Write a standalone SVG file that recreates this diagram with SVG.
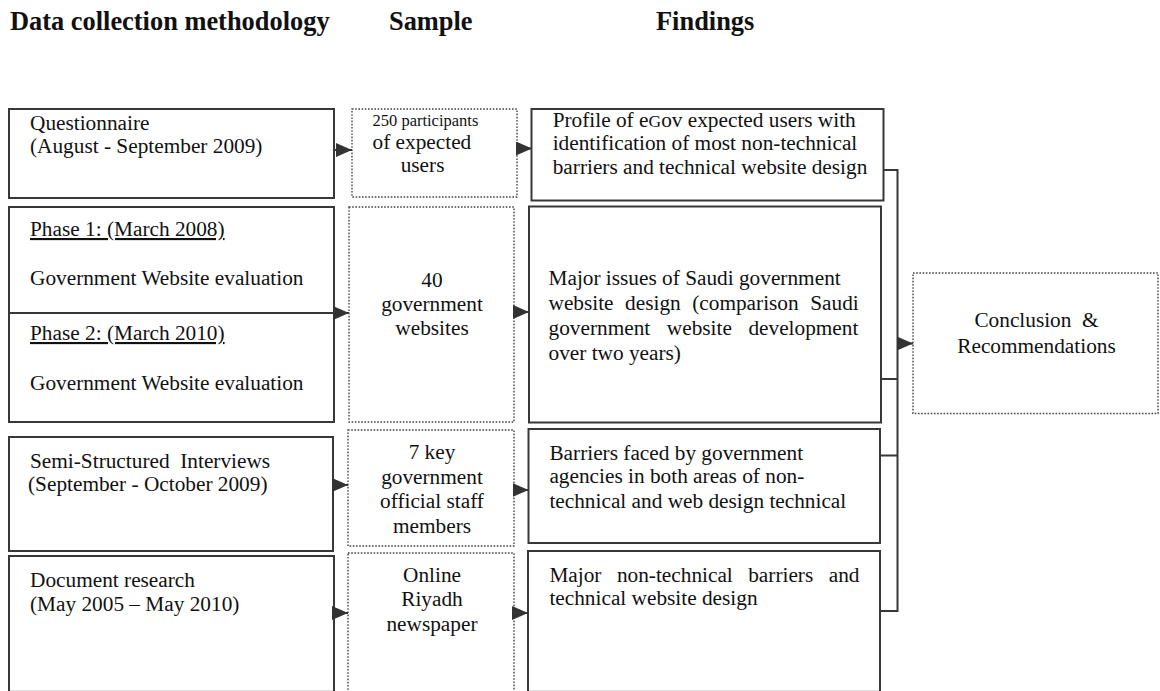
<svg xmlns="http://www.w3.org/2000/svg" width="1160" height="691" viewBox="0 0 1160 691">
  <style>
    text { font-family: "Liberation Serif", "Times New Roman", serif; fill: #111; font-size: 21.3px; }
    .head { font-weight: bold; font-size: 26.4px; }
    .box { fill: #fff; stroke: #383838; stroke-width: 2; }
    .dot { fill: #fff; stroke: #444; stroke-width: 1.4; stroke-dasharray: 1.6 1.6; }
    .ul { text-decoration: underline; }
    .mid { text-anchor: middle; }
    .small { font-size: 16.5px; }
    .edge { stroke: #dcdcdc; stroke-width: 1; }
    .wire { fill: none; stroke: #383838; stroke-width: 2; }
  </style>
  <defs>
    <marker id="tri" viewBox="0 0 16 14" refX="16" refY="7" markerWidth="16" markerHeight="14" markerUnits="userSpaceOnUse" orient="auto">
      <path d="M0,0 L16,7 L0,14 Z" fill="#333"/>
    </marker>
  </defs>
  <rect width="1160" height="691" fill="#fff"/>

  <!-- column headings -->
  <g id="headings">
    <text class="head" x="10" y="30">Data collection methodology</text>
    <text class="head" x="389" y="30">Sample</text>
    <text class="head" x="656" y="30">Findings</text>
  </g>

  <!-- methodology column -->
  <g id="questionnaire">
    <rect class="box" x="9" y="109" width="325" height="89"/>
    <text x="30" y="130">Questionnaire</text>
    <text x="30" y="153">(August - September 2009)</text>
  </g>
  <g id="website-evaluation">
    <rect class="box" x="9" y="207" width="325" height="215"/>
    <line class="wire" x1="9" y1="313" x2="334" y2="313"/>
    <text class="ul" x="30" y="236">Phase 1: (March 2008)</text>
    <text x="30" y="285">Government Website evaluation</text>
    <text class="ul" x="30" y="340">Phase 2: (March 2010)</text>
    <text x="30" y="390">Government Website evaluation</text>
  </g>
  <g id="interviews">
    <rect class="box" x="9" y="437" width="324" height="114"/>
    <text x="30" y="468" xml:space="preserve">Semi-Structured  Interviews</text>
    <text x="28" y="491">(September - October 2009)</text>
  </g>
  <g id="document-research">
    <rect class="box" x="9" y="556" width="325" height="150"/>
    <line class="edge" x1="10" y1="690.5" x2="333" y2="690.5"/>
    <text x="30" y="587">Document research</text>
    <text x="30" y="611">(May 2005 – May 2010)</text>
  </g>

  <!-- sample column -->
  <g id="sample-users">
    <rect class="dot" x="352" y="109" width="165" height="88"/>
    <text class="small" x="372.5" y="126">250 participants</text>
    <text x="372.5" y="149">of expected</text>
    <text x="400.7" y="172">users</text>
  </g>
  <g id="sample-websites">
    <rect class="dot" x="349" y="207" width="165" height="215"/>
    <text class="mid" x="432" y="287">40</text>
    <text class="mid" x="432" y="311">government</text>
    <text class="mid" x="432" y="335">websites</text>
  </g>
  <g id="sample-staff">
    <rect class="dot" x="348" y="430" width="166" height="116"/>
    <text class="mid" x="432" y="459">7 key</text>
    <text class="mid" x="432" y="484">government</text>
    <text class="mid" x="432" y="508">official staff</text>
    <text class="mid" x="432" y="533">members</text>
  </g>
  <g id="sample-newspaper">
    <rect class="dot" x="348" y="553" width="166" height="160"/>
    <text class="mid" x="432" y="582">Online</text>
    <text class="mid" x="432" y="606">Riyadh</text>
    <text class="mid" x="432" y="631">newspaper</text>
  </g>

  <!-- findings column -->
  <g id="finding-users">
    <rect class="box" x="531.5" y="109" width="352" height="91.5"/>
    <text x="552.7" y="127">Profile of e<tspan font-size="17.5px">G</tspan>ov expected users with</text>
    <text x="552.7" y="150">identification of most non-technical</text>
    <text x="552.7" y="174">barriers and technical website design</text>
  </g>
  <g id="finding-websites">
    <rect class="box" x="529" y="206.5" width="352" height="216"/>
    <text x="548.5" y="285">Major issues of Saudi government</text>
    <text y="310"><tspan x="548.5">website</tspan><tspan x="625.1">design</tspan><tspan x="692.2">(comparison</tspan><tspan x="810.2">Saudi</tspan></text>
    <text y="335"><tspan x="548.5">government</tspan><tspan x="666.8">website</tspan><tspan x="748.4">development</tspan></text>
    <text x="548.5" y="360">over two years)</text>
  </g>
  <g id="finding-agencies">
    <rect class="box" x="528.5" y="429" width="351.5" height="114"/>
    <text x="549.4" y="460">Barriers faced by government</text>
    <text x="549.4" y="483">agencies in both areas of non-</text>
    <text x="549.4" y="508">technical and web design technical</text>
  </g>
  <g id="finding-barriers">
    <rect class="box" x="528" y="551" width="352" height="160"/>
    <line class="edge" x1="529" y1="690.5" x2="879" y2="690.5"/>
    <text y="582"><tspan x="549.4">Major</tspan><tspan x="616.9">non-technical</tspan><tspan x="748.2">barriers</tspan><tspan x="828.7">and</tspan></text>
    <text x="549.4" y="605">technical website design</text>
  </g>

  <!-- outcome -->
  <g id="conclusion">
    <rect class="dot" x="913" y="273" width="245" height="140.5"/>
    <text class="mid" x="1036.5" y="327" xml:space="preserve">Conclusion  &amp;</text>
    <text class="mid" x="1036.5" y="353">Recommendations</text>
  </g>

  <!-- connectors -->
  <g id="connectors">
    <path class="wire" d="M883.5,170 H897.5 M881,379 H897.5 M880,455.5 H897.5 M880,611 H897.5 M897.5,169 V612"/>
    <line class="wire" x1="897.5" y1="343.5" x2="913" y2="343.5" marker-end="url(#tri)"/>
    <line class="wire" x1="334" y1="150" x2="352" y2="150" marker-end="url(#tri)"/>
    <line class="wire" x1="517" y1="148.5" x2="532" y2="148.5" marker-end="url(#tri)"/>
    <line class="wire" x1="334" y1="313" x2="349" y2="313" marker-end="url(#tri)"/>
    <line class="wire" x1="514" y1="312" x2="529" y2="312" marker-end="url(#tri)"/>
    <line class="wire" x1="333" y1="485" x2="348" y2="485" marker-end="url(#tri)"/>
    <line class="wire" x1="514" y1="490" x2="528.5" y2="490" marker-end="url(#tri)"/>
    <line class="wire" x1="334" y1="613" x2="348" y2="613" marker-end="url(#tri)"/>
    <line class="wire" x1="514" y1="613" x2="528" y2="613" marker-end="url(#tri)"/>
  </g>
</svg>
